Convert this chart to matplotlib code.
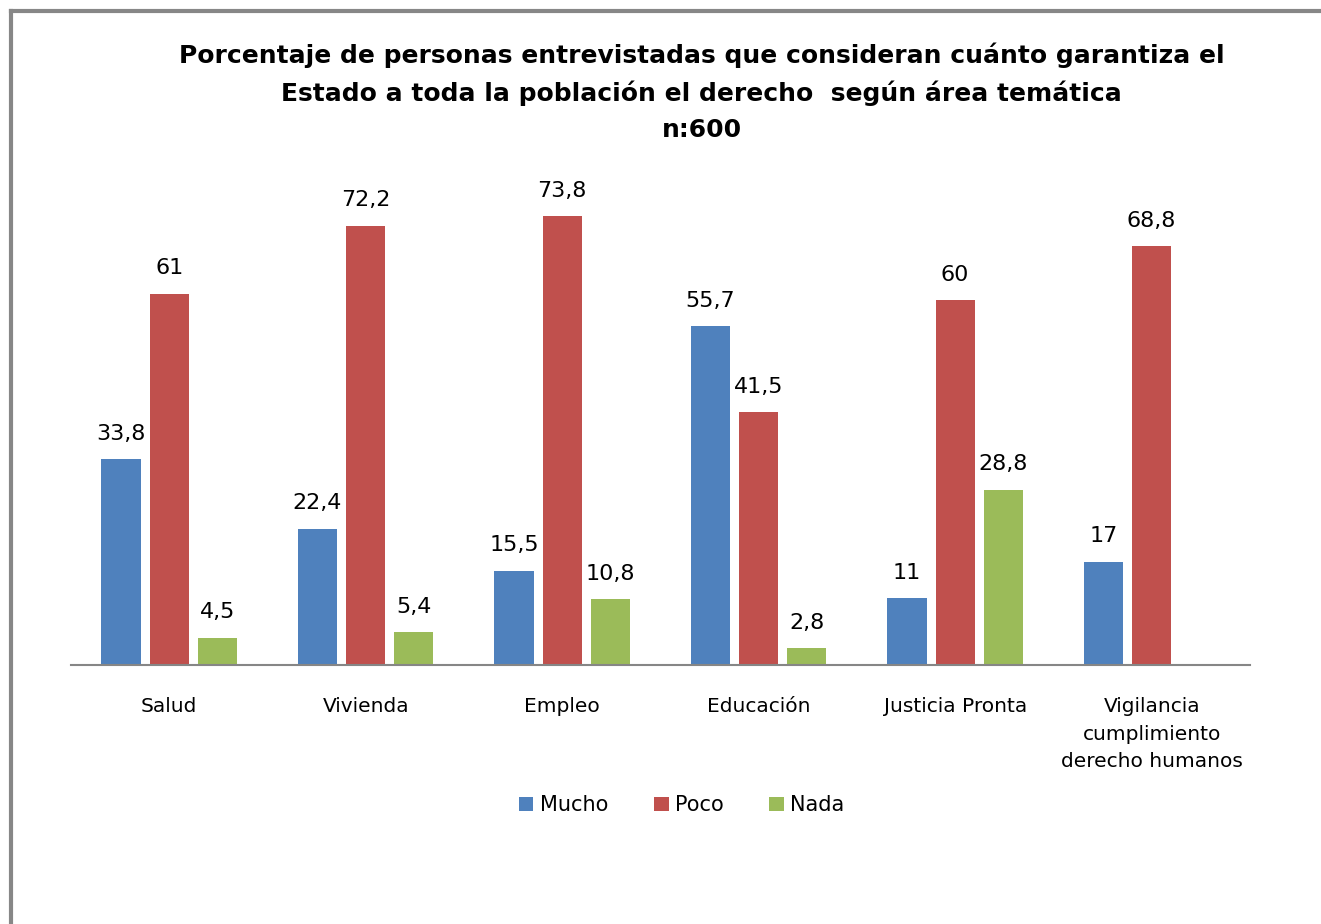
import numpy as np
import matplotlib.pyplot as plt
from matplotlib.lines import Line2D

# ── Datos ────────────────────────────────────────────────────────
categorias = ["Salud", "Vivienda", "Empleo", "Educación", "Justicia Pronta",
              "Vigilancia\ncumplimiento\nderecho humanos"]
mucho = [33.8, 22.4, 15.5, 55.7, 11, 17]
poco = [61, 72.2, 73.8, 41.5, 60, 68.8]
nada = [4.5, 5.4, 10.8, 2.8, 28.8, np.nan]

series = [("Mucho", mucho, "#4F81BD"),
          ("Poco", poco, "#C0504D"),
          ("Nada", nada, "#9BBB59")]

plt.rcParams['font.family'] = ['DejaVu Sans']

fig = plt.figure(figsize=(13.21, 9.24), dpi=100)
ax = fig.add_axes([0.0537, 0.2803, 0.8925, 0.527])

x = np.arange(len(categorias))
ancho = 0.2
desp = 0.245

for i, (nombre, vals, color) in enumerate(series):
    pos = x + (i - 1) * desp
    ax.bar(pos, vals, width=ancho, color=color, label=nombre)
    for px, v in zip(pos, vals):
        if np.isnan(v):
            continue
        txt = f"{v:g}".replace(".", ",")
        ax.annotate(txt, (px, v), xytext=(0, 11), textcoords="offset points",
                    ha="center", va="bottom", fontsize=16)

ax.set_xlim(-0.5, len(categorias) - 0.5)
ax.set_ylim(0, 80)
ax.set_yticks([])
for s in ["top", "right", "left"]:
    ax.spines[s].set_visible(False)
ax.spines["bottom"].set_color("#868686")
ax.spines["bottom"].set_linewidth(1.5)
ax.set_xticks(x)
ax.set_xticklabels(categorias, fontsize=14.5, linespacing=1.58)
ax.tick_params(axis="x", length=0, pad=23)

fig.text(0.531, 0.954,
         "Porcentaje de personas entrevistadas que consideran cuánto garantiza el\n"
         "Estado a toda la población el derecho  según área temática\nn:600",
         ha="center", va="top", fontsize=18, fontweight="bold", linespacing=1.63)

ax.legend(loc="center", bbox_to_anchor=(0.518, -0.288), ncol=3, frameon=False,
          fontsize=15, handlelength=0.7, handleheight=0.7, columnspacing=2.2,
          handletextpad=0.3)

# marco del gráfico
fig.add_artist(Line2D([11 / 1321, 11 / 1321], [0, 1 - 11 / 924],
                      transform=fig.transFigure, color="#878787", lw=3))
fig.add_artist(Line2D([11 / 1321, 1], [1 - 11 / 924, 1 - 11 / 924],
                      transform=fig.transFigure, color="#878787", lw=3))

fig.savefig("out.png", dpi=100, facecolor="white")
